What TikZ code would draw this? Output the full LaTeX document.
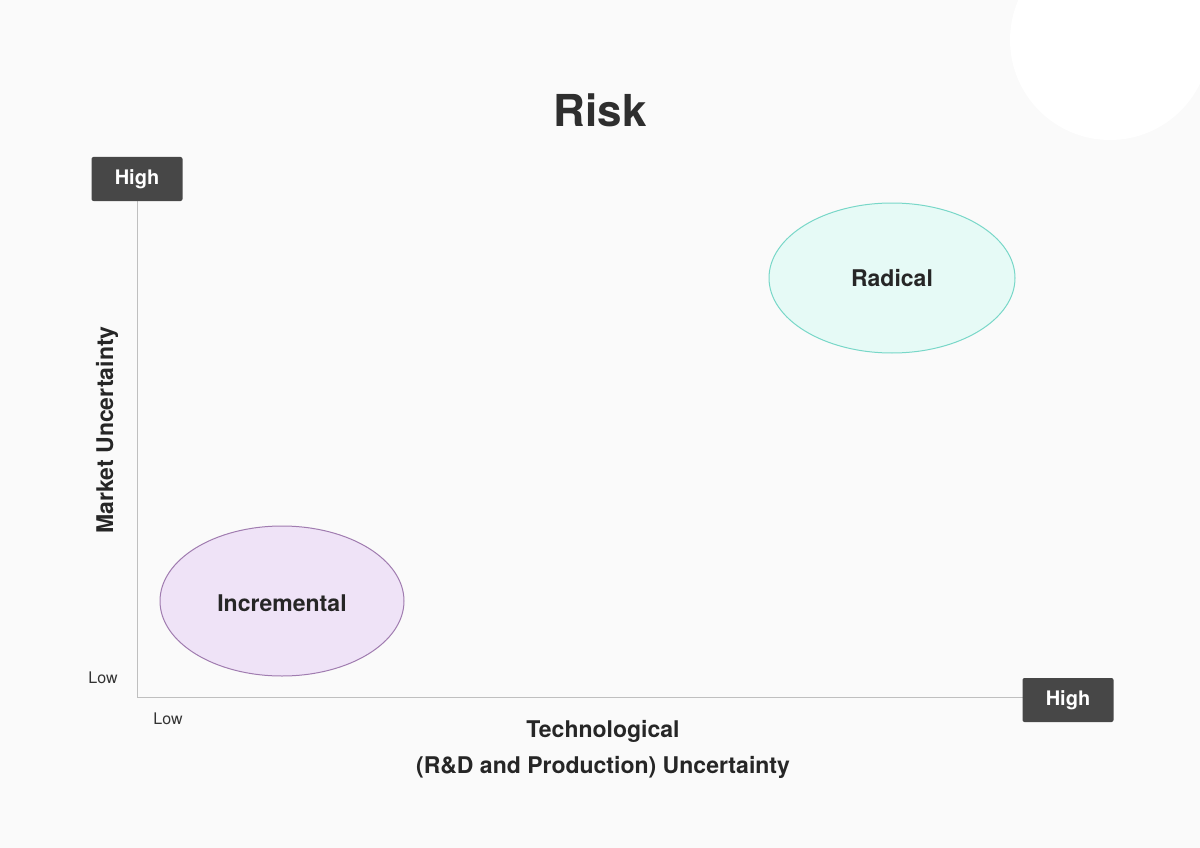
\documentclass[tikz,border=0pt]{standalone}
\usepackage{fontspec}
\setmainfont{TeX Gyre Heros}
\begin{document}
\begin{tikzpicture}[x=1pt,y=-1pt,
  hbox/.style={fill=black!72,rounded corners=2pt,minimum width=91pt,minimum height=44pt,text=white,font=\bfseries\fontsize{20}{24}\selectfont},
  lbl/.style={font=\bfseries\fontsize{23}{28}\selectfont,text=black!85},
  lowt/.style={font=\fontsize{16}{19}\selectfont,text=black!80}]
\fill[black!2] (0,0) rectangle (1200,848);
\useasboundingbox (0,0) rectangle (1200,848);
\fill[white] (1110,40) circle (100);
\node[font=\bfseries\fontsize{44}{50}\selectfont,text=black!82] (title) at (600,110) {Risk};
\coordinate (o) at (137,697);
\coordinate (yt) at (137,200);
\coordinate (xe) at (1025,697);
\draw[black!25,line width=1pt] (yt) -- (o) -- (xe);
\node[hbox] (hy) at (137,179) {High};
\node[hbox] (hx) at (1068,700) {High};
\node[lowt] (ly) at (103,678) {Low};
\node[lowt] (lx) at (168,719) {Low};
\node[lbl,rotate=90] (my) at (107,430) {Market Uncertainty};
\node[lbl,align=center,font=\bfseries\fontsize{23}{36}\selectfont] (tx) at (603,749) {Technological\\(R\&D and Production) Uncertainty};
\draw[fill={rgb,255:red,230;green,250;blue,246},draw={rgb,255:red,120;green,215;blue,200},line width=1pt] (892,278) ellipse [x radius=123,y radius=75];
\node[lbl] (rad) at (892,278) {Radical};
\draw[fill={rgb,255:red,239;green,227;blue,247},draw={rgb,255:red,160;green,124;blue,176},line width=1pt] (282,601) ellipse [x radius=122,y radius=75];
\node[lbl] (inc) at (282,603) {Incremental};
\end{tikzpicture}
\end{document}
